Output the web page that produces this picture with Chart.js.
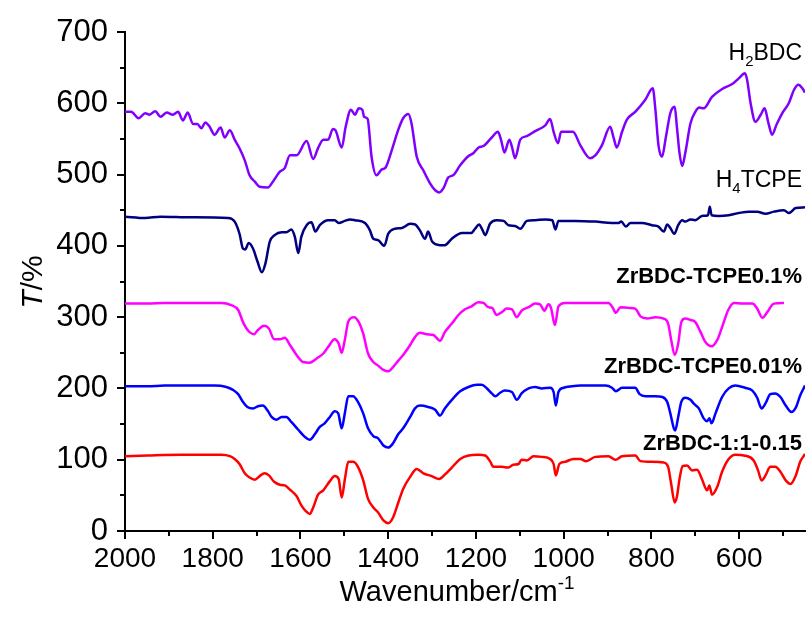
<!DOCTYPE html>
<html>
<head>
<meta charset="utf-8">
<title>FTIR</title>
<script src="https://cdn.jsdelivr.net/npm/chart.js@4.4.0/dist/chart.umd.min.js"></script>
<style>
  html, body { margin: 0; padding: 0; background: #fff; }
  canvas { display: block; }
</style>
</head>
<body>
<canvas id="ftir" width="811" height="621"></canvas>
<script>
// axis ticks
const xTicks = [2000, 1800, 1600, 1400, 1200, 1000, 800, 600];
const yTicks = [0, 100, 200, 300, 400, 500, 600, 700];

// H2BDC
const h2bdcWn = [2000,1986,1969,1954,1944,1931,1919,1905,1891,1879,1868,1857,1845,1835,1826,1817,1807,1796,1782,1773,1761,1750,1739,1727,1716,1704,1693,1674,1663,1647,1636,1624,1609,1586,1571,1560,1548,1537,1526,1520,1506,1497,1485,1476,1467,1459,1455,1447,1438,1427,1415,1406,1392,1377,1366,1354,1347,1335,1320,1305,1293,1284,1274,1263,1252,1236,1217,1206,1194,1183,1164,1150,1143,1135,1124,1118,1111,1099,1084,1065,1042,1031,1023,1013,1006,993,979,962,940,928,913,894,886,879,867,856,837,814,797,791,784,776,767,757,747,742,736,730,723,711,700,691,681,662,639,616,601,587,582,574,563,551,542,534,525,515,502,487,475,465,456,450];
const h2bdcT  = [588,588,579,586,584,589,581,587,584,588,576,587,571,571,565,573,567,556,566,552,562,549,537,520,499,490,483,482,490,504,509,527,527,547,522,537,549,549,564,562,538,567,591,584,593,591,581,578,525,499,507,510,534,563,579,585,572,525,506,488,478,475,481,496,499,513,526,530,538,540,552,560,549,531,549,539,523,549,554,561,569,578,560,544,560,560,560,541,523,527,541,567,551,538,560,577,588,605,621,591,541,525,553,586,595,567,530,512,530,572,588,594,593,609,620,627,635,642,633,600,574,584,593,574,556,570,586,600,619,626,621,615];

// H4TCPE
const h4tcpeWn = [2000,1954,1919,1850,1765,1750,1739,1731,1726,1718,1708,1698,1688,1680,1670,1659,1643,1632,1621,1613,1605,1598,1586,1575,1566,1556,1537,1522,1513,1499,1487,1476,1453,1442,1434,1423,1409,1400,1385,1369,1350,1339,1328,1316,1309,1300,1282,1271,1255,1232,1211,1202,1193,1185,1179,1168,1153,1137,1126,1111,1099,1084,1065,1042,1026,1019,1012,989,974,928,890,875,869,858,848,822,799,784,772,764,757,748,739,730,723,711,700,685,671,667,663,647,624,601,578,559,540,521,498,487,471,450];
const h4tcpeT  = [441,439,441,440,439,434,417,396,395,404,396,378,363,375,406,415,419,419,423,413,390,413,429,433,420,429,436,436,432,435,437,436,432,422,410,408,400,417,424,425,431,430,422,410,420,406,401,401,410,418,418,424,430,422,415,431,436,435,429,428,424,435,436,437,436,423,435,435,435,434,432,432,434,427,432,432,429,427,420,430,425,417,429,436,434,437,436,442,443,455,443,442,443,446,448,448,445,448,450,446,453,454];

// ZrBDC-TCPE0.1%
const tcpe01Wn = [2000,1948,1910,1834,1780,1758,1742,1731,1723,1716,1706,1697,1683,1672,1660,1647,1636,1624,1609,1594,1579,1563,1548,1537,1522,1513,1506,1499,1491,1478,1467,1457,1446,1434,1423,1411,1400,1389,1377,1366,1350,1339,1328,1312,1297,1282,1271,1255,1240,1225,1210,1195,1183,1172,1163,1153,1141,1130,1118,1107,1096,1080,1065,1054,1044,1035,1029,1020,1012,997,962,898,889,881,871,852,837,825,810,791,772,762,755,747,739,732,723,711,700,688,677,663,650,639,625,612,593,570,559,547,536,521,498];
const tcpe01T  = [319,319,320,320,320,317,310,293,284,279,276,282,288,284,269,269,271,261,247,237,236,242,249,258,269,263,250,268,294,300,293,277,249,237,232,226,224,230,239,247,261,272,278,276,275,267,279,291,303,311,315,321,320,314,313,303,307,312,311,300,309,314,319,318,309,318,313,289,315,320,320,320,314,306,314,313,312,301,298,300,298,291,268,247,263,293,298,296,293,279,265,259,268,286,310,320,319,319,312,299,307,319,320];

// ZrBDC-TCPE0.01%
const tcpe001Wn = [2000,1948,1910,1796,1769,1754,1742,1731,1721,1708,1697,1686,1675,1666,1655,1643,1632,1621,1605,1590,1579,1567,1556,1545,1533,1522,1514,1506,1499,1491,1480,1469,1457,1446,1434,1423,1411,1400,1389,1377,1366,1350,1339,1328,1309,1293,1282,1271,1255,1236,1217,1198,1187,1175,1164,1156,1145,1134,1118,1107,1096,1080,1065,1050,1031,1023,1018,1012,1000,981,962,936,905,890,881,867,837,827,814,791,775,764,757,749,746,739,732,723,711,704,692,681,673,668,663,654,639,624,609,587,570,559,549,540,529,518,506,494,481,471,461,450];
const tcpe001T  = [203,203,204,204,202,198,192,181,174,172,175,176,169,160,156,160,160,153,142,132,128,136,146,151,160,168,165,144,165,189,189,181,165,144,133,130,120,117,123,136,144,160,172,176,174,170,162,172,184,196,202,205,205,200,193,189,194,197,195,184,193,200,202,200,201,195,176,195,201,203,204,204,204,201,196,201,201,192,189,189,188,181,165,144,141,160,181,187,184,179,172,158,154,158,151,165,188,200,204,201,197,187,172,179,192,193,188,176,167,173,190,204];

// ZrBDC-1:1-0.15
const zr115Wn = [2000,1948,1872,1780,1761,1750,1739,1727,1716,1704,1693,1682,1672,1660,1647,1636,1624,1609,1598,1588,1579,1571,1560,1548,1533,1522,1513,1506,1499,1491,1480,1469,1457,1446,1434,1423,1411,1400,1389,1377,1366,1350,1335,1320,1301,1284,1271,1255,1236,1217,1195,1179,1168,1160,1141,1126,1115,1103,1096,1084,1069,1050,1031,1023,1018,1010,997,978,962,949,928,898,882,867,837,825,799,772,762,755,747,742,736,729,719,707,696,685,673,668,662,650,639,624,609,589,567,557,549,540,529,518,506,494,483,471,461,450];
const zr115T  = [105,106,107,107,105,101,94,81,75,72,77,81,78,69,65,64,58,49,36,28,24,33,51,57,70,77,73,47,72,97,97,90,71,45,33,26,15,11,19,40,59,76,87,81,77,73,79,89,101,106,107,106,98,90,90,89,93,94,100,99,105,104,101,94,78,94,97,101,101,98,104,105,100,105,106,98,97,96,90,66,40,48,73,91,92,85,86,73,57,64,51,62,83,101,107,106,99,85,71,78,90,90,83,71,66,78,97,108];

const seriesColors = ['#8000ff', '#000080', '#ff00ff', '#0000ff', '#ff0000'];

// curve labels: text pieces ('sub' = subscript) and the T value of their baseline
const seriesLabels = [
  [['H'], ['2', 'sub'], ['BDC']],
  [['H'], ['4', 'sub'], ['TCPE']],
  [['ZrBDC-TCPE0.1%']],
  [['ZrBDC-TCPE0.01%']],
  [['ZrBDC-1:1-0.15']]
];
const labelBold = [false, false, true, true, true];
const labelLevel = [661, 483, 348, 222, 113];

const FONT = "'Liberation Sans', Arial, Helvetica, sans-serif";

function toPoints(wn, t) {
  return wn.map((w, i) => ({ x: w, y: t[i] }));
}

// draw a run of text pieces, right-aligned at xr, on baseline yb
function drawPieces(ctx, pieces, xr, yb, size, bold) {
  const weight = bold ? 'bold ' : '';
  const widths = pieces.map(p => {
    const s = p[1] ? size * 0.65 : size;
    ctx.font = weight + s + 'px ' + FONT;
    return ctx.measureText(p[0]).width;
  });
  let x = xr - widths.reduce((a, b) => a + b, 0);
  pieces.forEach((p, i) => {
    const s = p[1] ? size * 0.65 : size;
    ctx.font = weight + s + 'px ' + FONT;
    let y = yb;
    if (p[1] === 'sub') y += size * 0.28;
    if (p[1] === 'sup') y -= size * 0.42;
    ctx.fillText(p[0], x, y);
    x += widths[i];
  });
}

const decor = {
  id: 'decor',
  afterDraw(chart) {
    const { ctx, chartArea, scales } = chart;
    const x = scales.x, y = scales.y;
    ctx.save();
    ctx.strokeStyle = '#000';
    ctx.lineWidth = 2;
    ctx.beginPath();
    // minor ticks
    for (let v = 1900; v >= 500; v -= 200) {
      const px = Math.round(x.getPixelForValue(v));
      ctx.moveTo(px, chartArea.bottom);
      ctx.lineTo(px, chartArea.bottom + 5);
    }
    for (let v = 50; v < 700; v += 100) {
      const py = Math.round(y.getPixelForValue(v));
      ctx.moveTo(chartArea.left, py);
      ctx.lineTo(chartArea.left - 5, py);
    }
    ctx.stroke();

    ctx.fillStyle = '#000';
    ctx.textBaseline = 'alphabetic';
    ctx.textAlign = 'left';

    // x title
    const xt = [['Wavenumber/cm'], ['-1', 'sup']];
    ctx.font = '29px ' + FONT;
    const w1 = ctx.measureText('Wavenumber/cm').width;
    ctx.font = (29 * 0.65) + 'px ' + FONT;
    const w2 = ctx.measureText('-1').width;
    const cx = (chartArea.left + chartArea.right) / 2 - 8;
    drawPieces(ctx, xt, cx + (w1 + w2) / 2, 601, 29, false);

    // y title, T in italics
    ctx.save();
    ctx.translate(42, 282);
    ctx.rotate(-Math.PI / 2);
    ctx.font = 'italic 30px ' + FONT;
    const tw = ctx.measureText('T').width;
    ctx.font = '30px ' + FONT;
    const rw = ctx.measureText('/%').width;
    const x0 = -(tw + rw) / 2;
    ctx.font = 'italic 30px ' + FONT;
    ctx.fillText('T', x0, 0);
    ctx.font = '30px ' + FONT;
    ctx.fillText('/%', x0 + tw, 0);
    ctx.restore();

    // curve labels
    seriesLabels.forEach((pieces, i) => {
      const yb = y.getPixelForValue(labelLevel[i]);
      drawPieces(ctx, pieces, chartArea.right - 3, yb, labelBold[i] ? 22 : 23, labelBold[i]);
    });
    ctx.restore();
  }
};

const spectra = [
  toPoints(h2bdcWn, h2bdcT),
  toPoints(h4tcpeWn, h4tcpeT),
  toPoints(tcpe01Wn, tcpe01T),
  toPoints(tcpe001Wn, tcpe001T),
  toPoints(zr115Wn, zr115T)
];
const names = ['H2BDC', 'H4TCPE', 'ZrBDC-TCPE0.1%', 'ZrBDC-TCPE0.01%', 'ZrBDC-1:1-0.15'];

new Chart(document.getElementById('ftir'), {
  type: 'line',
  data: {
    datasets: spectra.map((pts, i) => ({
      label: names[i],
      data: pts,
      borderColor: seriesColors[i],
      borderWidth: 2.5,
      pointRadius: 0,
      fill: false,
      cubicInterpolationMode: 'monotone'
    }))
  },
  options: {
    responsive: false,
    animation: false,
    layout: { padding: { top: 32, right: 6, left: 0, bottom: 0 } },
    plugins: { legend: { display: false }, tooltip: { enabled: false } },
    scales: {
      x: {
        type: 'linear',
        reverse: true,
        min: 450,
        max: 2000,
        afterBuildTicks: s => { s.ticks = xTicks.map(v => ({ value: v })); },
        afterFit: s => { s.height = 90; },
        grid: { display: true, drawOnChartArea: false, drawTicks: true, tickLength: 8, color: '#000', lineWidth: 2 },
        border: { display: true, color: '#000', width: 2 },
        ticks: { color: '#000', font: { family: FONT, size: 28 }, padding: 3, maxRotation: 0, autoSkip: false, callback: v => String(v) }
      },
      y: {
        type: 'linear',
        min: 0,
        max: 700,
        afterBuildTicks: s => { s.ticks = yTicks.map(v => ({ value: v })); },
        afterFit: s => { s.width = 125; },
        grid: { display: true, drawOnChartArea: false, drawTicks: true, tickLength: 8, color: '#000', lineWidth: 2 },
        border: { display: true, color: '#000', width: 2 },
        ticks: { color: '#000', font: { family: FONT, size: 31 }, padding: 9, autoSkip: false, callback: v => String(v) }
      }
    }
  },
  plugins: [decor]
});
</script>
</body>
</html>
